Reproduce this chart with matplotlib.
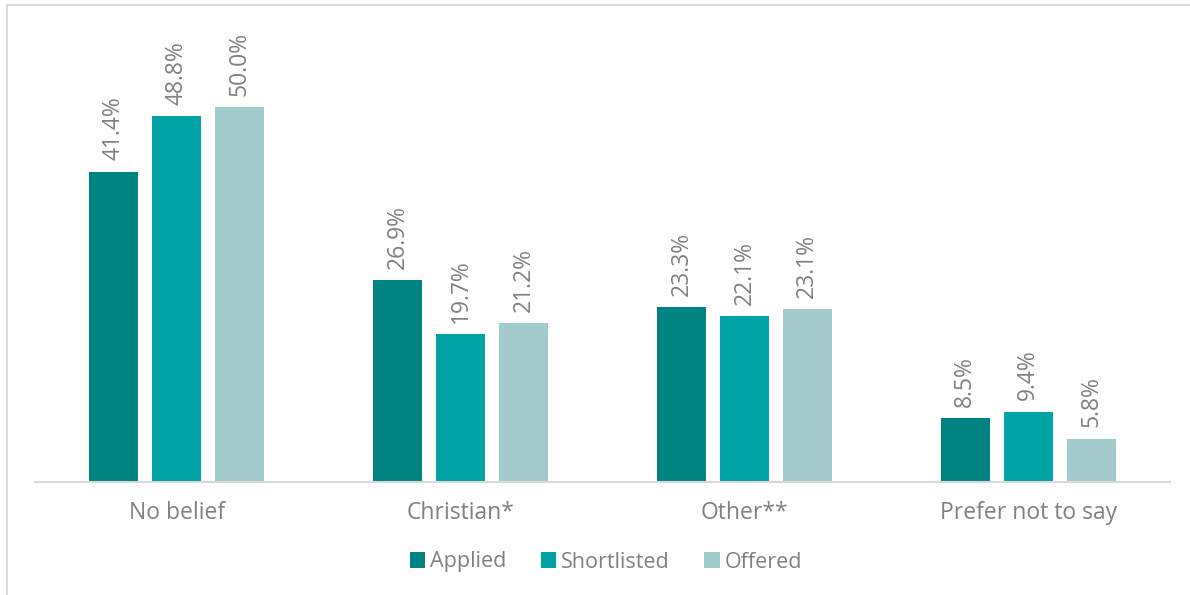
import numpy as np
import matplotlib.pyplot as plt
from matplotlib.patches import Rectangle

categories = ['No belief', 'Christian*', 'Other**', 'Prefer not to say']
applied = [41.4, 26.9, 23.3, 8.5]
shortlisted = [48.8, 19.7, 22.1, 9.4]
offered = [50.0, 21.2, 23.1, 5.8]
series_names = ['Applied', 'Shortlisted', 'Offered']

colors = ['#008482', '#00A3A3', '#A2CACA']
text_color = '#808080'
plt.rcParams['font.family'] = ['Open Sans', 'DejaVu Sans']

fig = plt.figure(figsize=(11.9, 5.95), dpi=100)
ax = fig.add_axes([35 / 1190, 1 - 482 / 595, 1135 / 1190, 450 / 595])

x = np.arange(len(categories))
width = 0.1725
step = 0.222
for i, (name, vals) in enumerate(zip(series_names, [applied, shortlisted, offered])):
    pos = x + (i - 1) * step
    ax.bar(pos, vals, width, color=colors[i], label=name, zorder=2)
    for p, v in zip(pos, vals):
        ax.annotate(f'{v:.1f}%', (p, v), xytext=(0, 8), textcoords='offset points',
                    rotation=90, ha='center', va='bottom', fontsize=16.5,
                    color=text_color, annotation_clip=False)

ax.set_xlim(-0.5, len(categories) - 0.5)
ax.set_ylim(0, 60)
ax.set_xticks(x)
ax.set_xticklabels(categories, fontsize=16.5, color=text_color)
ax.tick_params(axis='x', length=0, pad=14)
ax.set_yticks([])
for s in ['top', 'right', 'left']:
    ax.spines[s].set_visible(False)
ax.spines['bottom'].set_color('#d9d9d9')
ax.spines['bottom'].set_linewidth(1.5)

leg = fig.legend(loc='center', bbox_to_anchor=(606 / 1190, 1 - 562 / 595), ncol=3, frameon=False,
                 fontsize=15.5, handlelength=0.7, handleheight=0.7, handletextpad=0.25,
                 columnspacing=1.6)
for t in leg.get_texts():
    t.set_color(text_color)

fig.patches.append(Rectangle((7 / 1190, -0.01), 1.02, 1 - 5 / 595 + 0.01,
                             transform=fig.transFigure, fill=False,
                             edgecolor='#d9d9d9', linewidth=1.5))

fig.savefig('out.png', dpi=100)
